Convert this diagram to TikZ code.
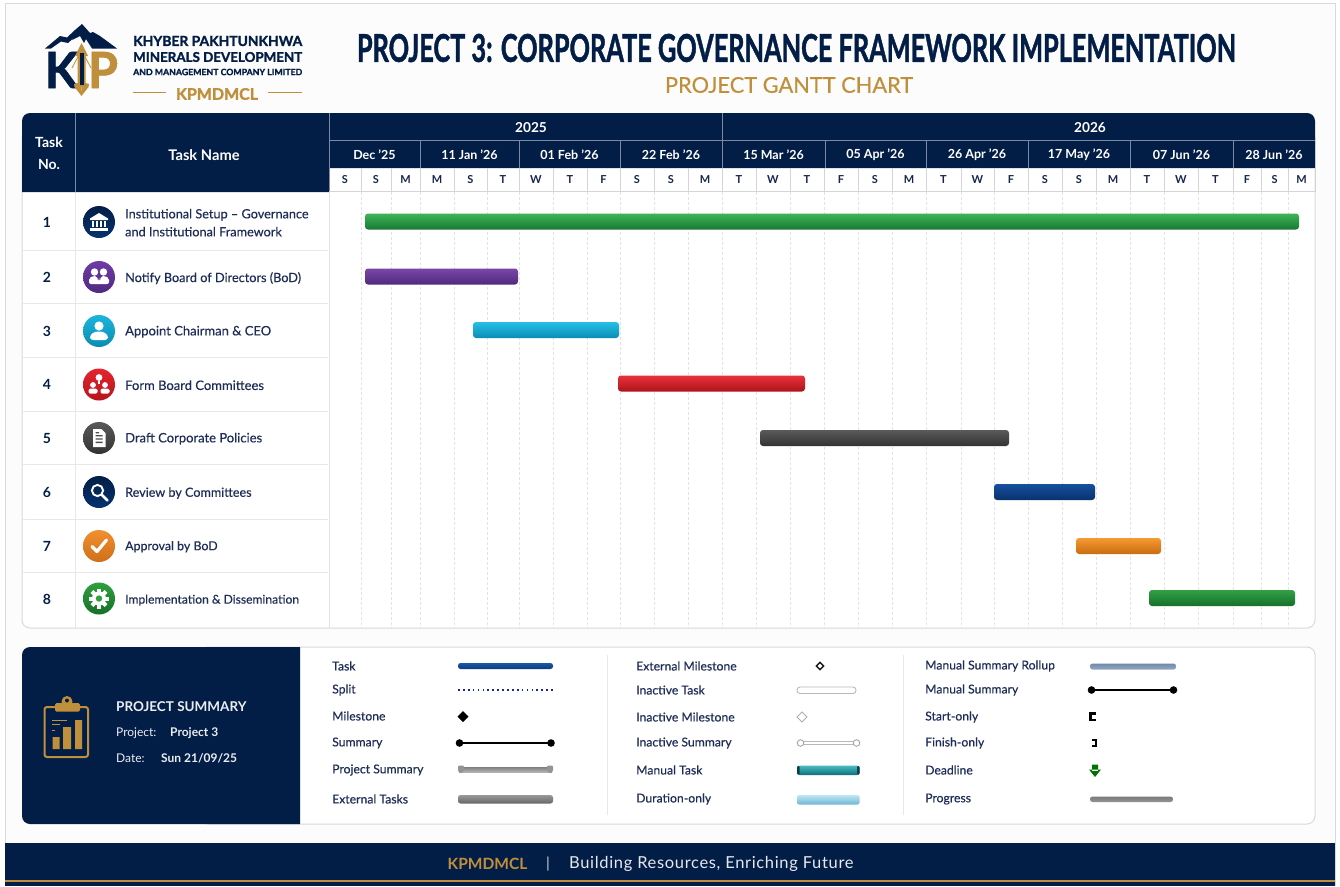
\documentclass[tikz,border=0pt]{standalone}
\usepackage{fontspec}
\usepackage{graphicx}
\setmainfont{Lato}
\newfontfamily\ttl[BoldFeatures={FakeBold=1.6}]{Lato}
\newfontfamily\med[FakeBold=0.35]{Lato}
\definecolor{navy}{HTML}{031E46}
\definecolor{ink}{HTML}{1E2D58}
\definecolor{gold}{HTML}{C08F3C}
\definecolor{rulec}{HTML}{E6E8EC}
\definecolor{sepc}{HTML}{7C88A4}
\definecolor{edgec}{HTML}{D5D9E0}
\definecolor{tkA}{HTML}{1A56A6}
\definecolor{tkB}{HTML}{0B3B80}
\definecolor{mtA}{HTML}{4ABCC4}
\definecolor{mtB}{HTML}{15929C}
\definecolor{mtC}{HTML}{0D6F78}
\definecolor{mtD}{HTML}{0B3F4A}
\definecolor{doA}{HTML}{BFE6F2}
\definecolor{doB}{HTML}{8FD0E4}
\definecolor{doC}{HTML}{6DB8D4}
\definecolor{roA}{HTML}{6F8CAE}
\definecolor{roB}{HTML}{93A7BE}
\definecolor{icPa}{HTML}{6E3CA6}
\definecolor{icPb}{HTML}{4F2A7E}
\definecolor{icCa}{HTML}{1CB4DC}
\definecolor{icCb}{HTML}{0A8DB2}
\definecolor{icRa}{HTML}{E4252E}
\definecolor{icRb}{HTML}{B5141C}
\definecolor{icOa}{HTML}{F09030}
\definecolor{icOb}{HTML}{CF6F18}
\definecolor{icGa}{HTML}{2FA03E}
\definecolor{icGb}{HTML}{157029}
\definecolor{icNb}{HTML}{063270}
\definecolor{splitc}{HTML}{1B2A8A}
\newcommand\fs[1]{\fontsize{#1}{#1}\selectfont}
\newcommand\gbar[6]{\definecolor{gbA}{HTML}{#4}\definecolor{gbB}{HTML}{#5}\definecolor{gbC}{HTML}{#6}\shade[top color=gbA,middle color=gbB,bottom color=gbC,rounded corners=3pt] (#1,#2) rectangle (#3,#2+16);}
\newcommand\diam[3]{(#1-#3,#2) -- (#1,#2-#3) -- (#1+#3,#2) -- (#1,#2+#3) -- cycle}
\tikzset{
  x=1pt,y=-1pt,
  lbl/.style={anchor=west,inner sep=0pt,text=ink,yshift=-.7pt,font=\med\fs{12.7}},
  hdr/.style={inner sep=0pt,text=white,font=\bfseries\fs{12.5}},
  daylbl/.style={inner sep=0pt,text=ink!85!black,font=\bfseries\fs{11}},
  numlbl/.style={inner sep=0pt,text=navy,font=\bfseries\fs{14}},
  sumlbl/.style={anchor=west,inner sep=0pt,text=white!92!navy,font=\fs{12}},
  icw/.style={fill=white,draw=none},
}
\begin{document}
\begin{tikzpicture}
\useasboundingbox (0,0) rectangle (1340,886);
\fill[white] (0,0) rectangle (1340,886);
\fill[black!1] (5,3) rectangle (1335,886);
\draw[edgec,line width=1pt] (5,886) -- (5,3.5) -- (1335,3.5) -- (1335,886);

% ---------- logo
\fill[navy] (82,24) -- (90,33) -- (93,32) -- (100,36) -- (117,48.5) -- (92,48.5) -- (86,39) -- (84,43) -- (80,36) -- (72,40) -- cycle;
\fill[navy] (45,48.5) -- (60,36) -- (67,37.5) -- (75,30) -- (82,24) -- (78,34) -- (68,43) -- (61,41.5) -- (51,48.5) -- cycle;
\node[inner sep=0pt,text=navy] (logoK) at (61.5,70) {\resizebox{33pt}{36pt}{\ttl\bfseries K}};
\node[inner sep=0pt,text=gold] (logoP) at (103,70) {\resizebox{30pt}{36pt}{\ttl\bfseries P}};
\draw[gold,line width=.8pt] (81.5,50) -- (72,68);
\draw[gold,line width=.8pt] (81.5,50) -- (91,68);
\fill[gold] (81.5,43) -- (88,56) -- (85.5,56) -- (85.5,83) -- (89,84) -- (88.5,87) -- (81.5,96) -- (74.5,87) -- (74,84) -- (77.5,83) -- (77.5,56) -- (75,56) -- cycle;
\fill[navy] (79.5,53) rectangle (83.5,85);
\fill[white!25!gold] (80.5,87) -- (82.5,87) -- (81.5,91) -- cycle;

\node[anchor=west,inner sep=0pt,text=navy] (org1) at (133,41) {\resizebox{169pt}{!}{\ttl\bfseries\fs{14}KHYBER PAKHTUNKHWA}};
\node[anchor=west,inner sep=0pt,text=navy] (org2) at (133,57) {\resizebox{169pt}{!}{\ttl\bfseries\fs{14}MINERALS DEVELOPMENT}};
\node[anchor=west,inner sep=0pt,text=navy] (org3) at (133,72) {\resizebox{169pt}{!}{\ttl\bfseries\fs{9}AND MANAGEMENT COMPANY LIMITED}};
\node[inner sep=0pt,text=gold] (org4) at (217,94) {\resizebox{82pt}{!}{\ttl\bfseries\fs{15}KPMDMCL}};
\draw[gold,line width=1.2pt] (133,92.5) -- (166,92.5) (268,92.5) -- (302,92.5);

% ---------- title
\node[inner sep=0pt,text=navy] (title) at (796.5,48) {\resizebox{879pt}{28pt}{\ttl\bfseries PROJECT 3: CORPORATE GOVERNANCE FRAMEWORK IMPLEMENTATION}};
\node[inner sep=0pt,text=gold] (subtitle) at (789,85) {\resizebox{248pt}{!}{\med\fs{20}PROJECT GANTT CHART}};

% ---------- table frame and chart grid
\fill[white,draw=edgec,line width=1pt,rounded corners=8pt] (22,130) rectangle (1315,628);
\foreach \e in {361,391,420,454,487,519,553,587,620,654,688,722,756,790,824,858,892,926,961,994,1028,1062,1096,1130,1164,1198,1233,1261,1288}
  \draw[black!11,line width=.6pt,dash pattern=on 2.5pt off 2.5pt] (\e,192) -- (\e,628);
\draw[black!11,line width=.6pt] (329,192) -- (329,628);
\draw[rulec,line width=1pt] (75,192) -- (75,628);
\foreach \r in {250,303.5,357,411,464.5,519,572}
  \draw[rulec,line width=1pt] (22.5,\r) -- (328,\r);

% ---------- table header
\fill[navy] (22,192) [rounded corners=8pt] -- (22,113) -- (1315,113) [sharp corners] -- (1315,168) -- (329,168) -- (329,192) -- cycle;
\draw[sepc,line width=.8pt] (75,113) -- (75,192) (329,113) -- (329,192) (329,140) -- (1315,140) (722,113) -- (722,168);
\foreach \e in {420,519,620,825,926,1028,1130,1233}
  \draw[sepc,line width=.8pt] (\e,140) -- (\e,168);
\node[hdr,align=center,font=\bfseries\fontsize{14}{22}\selectfont] (hNo) at (49,153) {Task\\No.};
\node[hdr,font=\bfseries\fs{14.7}] (hName) at (204,155) {Task Name};
\node[hdr,font=\bfseries\fs{13.7}] (y25) at (531,128) {2025};
\node[hdr,font=\bfseries\fs{13.7}] (y26) at (1090,128) {2026};
\foreach \a/\b/\m in {329/420/Dec '25,420/519/11 Jan '26,519/620/01 Feb '26,620/722/22 Feb '26,722/825/15 Mar '26,825/926/05 Apr '26,926/1028/26 Apr '26,1028/1130/17 May '26,1130/1233/07 Jun '26,1233/1315/28 Jun '26}
  \node[hdr] (m\a) at ({(\a+\b)/2},155) {\m};
\foreach \a/\b/\l in {329/361/S,361/391/S,391/420/M,420/454/M,454/487/S,487/519/T,519/553/W,553/587/T,587/620/F,620/654/S,654/688/S,688/722/M,722/756/T,756/790/W,790/824/T,824/858/F,858/892/S,892/926/M,926/961/T,961/994/W,994/1028/F,1028/1062/S,1062/1096/S,1096/1130/M,1130/1164/T,1164/1198/W,1198/1233/T,1233/1261/F,1261/1288/S,1288/1315/M}{
  \node[daylbl] (d\a) at ({(\a+\b)/2},180) {\l};
  \draw[black!17,line width=.7pt] (\b,168) -- (\b,191.5);
}
\draw[black!17,line width=.8pt] (329,191.5) -- (1315,191.5);

% ---------- task rows
\foreach \i/\y in {1/222,2/277,3/331,4/384,5/438,6/492,7/546,8/599}
  \node[numlbl] (n\i) at (47,\y) {\i};
\node[lbl,align=left,font=\med\fontsize{12.7}{18}\selectfont] (t1) at (125,222) {Institutional Setup – Governance\\and Institutional Framework};
\node[lbl] (t2) at (125,277.5) {Notify Board of Directors (BoD)};
\node[lbl,font=\med\fs{13}] (t3) at (125,331) {Appoint Chairman \& CEO};
\node[lbl,font=\med\fs{13}] (t4) at (125,384.5) {Form Board Committees};
\node[lbl,font=\med\fs{13}] (t5) at (125,438) {Draft Corporate Policies};
\node[lbl,font=\med\fs{12.6}] (t6) at (125,492.5) {Review by Committees};
\node[lbl,font=\med\fs{12.4}] (t7) at (125,546) {Approval by BoD};
\node[lbl,font=\med\fs{12.1}] (t8) at (125,599.5) {Implementation \& Dissemination};

% ---------- icons
\shade[top color=navy,bottom color=icNb] (99,222) circle (16);
\begin{scope}[shift={(99,222)}]
  \fill[icw] (-9,-3.5) -- (0,-9) -- (9,-3.5) -- (9,-2) -- (-9,-2) -- cycle;
  \foreach \c in {-7,-3,1,5} \fill[icw] (\c,-1) rectangle (\c+2,5);
  \fill[icw] (-9,6) rectangle (9,8.5);
\end{scope}
\shade[top color=icPa,bottom color=icPb] (99,277) circle (16);
\begin{scope}[shift={(99,277)}]
  \fill[icw] (-4.5,-5) circle (3.7) (4.5,-5) circle (3.7);
  \fill[icw,rounded corners=2pt] (-10,7) -- (-10,1) -- (-6,-1) -- (-2,-1) -- (-.8,5) -- (0,0) -- (.8,5) -- (2,-1) -- (6,-1) -- (10,1) -- (10,7) -- cycle;
\end{scope}
\shade[top color=icCa,bottom color=icCb] (99,331) circle (16);
\begin{scope}[shift={(99,331)}]
  \fill[icw] (0,-5) circle (4.6);
  \fill[icw,rounded corners=3pt] (-9,9) -- (-9,4) -- (-4,.5) -- (4,.5) -- (9,4) -- (9,9) -- cycle;
\end{scope}
\shade[top color=icRa,bottom color=icRb] (99,384.5) circle (16);
\begin{scope}[shift={(99,384.5)}]
  \fill[icw] (0,-7) circle (3.4) (-6,0.5) circle (2.9) (6,0.5) circle (2.9);
  \fill[icw] (-.6,-4) rectangle (.6,-1);
  \fill[icw,rounded corners=1.5pt] (-10.5,9) -- (-10.5,4.2) -- (-1.5,4.2) -- (-1.5,9) -- cycle (1.5,9) -- (1.5,4.2) -- (10.5,4.2) -- (10.5,9) -- cycle;
\end{scope}
\shade[top color=black!65,bottom color=black!80] (99,438) circle (16);
\begin{scope}[shift={(99,438)}]
  \fill[icw] (-6,-9) -- (2.5,-9) -- (6.5,-5) -- (6.5,9) -- (-6,9) -- cycle;
  \fill[black!70] (-3.5,-3) rectangle (3.5,-1.6) (-3.5,.3) rectangle (3.5,1.7) (-3.5,3.6) rectangle (3.5,5) (-3.5,-6) rectangle (0,-4.6);
\end{scope}
\shade[top color=navy,bottom color=icNb] (99,492) circle (16);
\begin{scope}[shift={(99,492)}]
  \draw[white,line width=1.9pt] (-1.5,-1.5) circle (5.6);
  \draw[white,line width=2.6pt,line cap=round] (2.8,2.8) -- (8.5,8.5);
\end{scope}
\shade[top color=icOa,bottom color=icOb] (99,546) circle (16);
\draw[white,line width=3.2pt,line cap=round,line join=round] (92,546.5) -- (97,551.5) -- (106.5,540);
\shade[top color=icGa,bottom color=icGb] (99,598.5) circle (16);
\begin{scope}[shift={(99,598.5)}]
  \foreach \t in {0,45,...,315} \fill[icw,rotate=\t] (-2,-10) rectangle (2,-5);
  \fill[icw] (0,0) circle (7);
  \fill[icGa] (0,0) circle (3.2);
\end{scope}

% ---------- bars
\gbar{365}{213.5}{1299}{3FB45A}{23A043}{157A30}
\gbar{365}{268.5}{518}{7B46A8}{643295}{4F2A7E}
\gbar{473}{322}{619}{26BFE6}{12AAD4}{0B8DB5}
\gbar{618}{375.5}{805}{E8323A}{DC1F28}{AE131B}
\gbar{760}{430}{1009}{5A5A5A}{454545}{333333}
\gbar{994}{484}{1095}{184F9E}{0C3F86}{08326E}
\gbar{1076}{538}{1161}{F59A33}{E9841F}{C96C10}
\gbar{1149}{590}{1295}{32A047}{218F37}{157029}

% ---------- legend panel
\fill[white,draw=edgec,line width=1pt,rounded corners=8pt] (200,647) rectangle (1315,824);
\fill[navy] (300,647) [rounded corners=8pt] -- (22,647) -- (22,824) [sharp corners] -- (300,824) -- cycle;
\draw[rulec,line width=.8pt] (607,655) -- (607,815) (903,655) -- (903,815);

% clipboard icon
\begin{scope}[gold]
  \draw[line width=2pt,rounded corners=2.5pt] (44.5,707) rectangle (88,757);
  \fill[rounded corners=1.5pt] (55,703) rectangle (80,711.5);
  \fill (67,701.5) circle (5.5);
  \fill[navy] (67,700.5) circle (2);
  \draw[line width=1pt] (52,720) -- (67,720) (52,724) -- (60,724);
  \draw[line width=1pt] (52,730) -- (55,730);
  \fill (52.7,737) rectangle (59.5,749) (63,727) rectangle (71,749) (75,720) rectangle (82,749);
\end{scope}
\node[sumlbl,font=\bfseries\fs{13.5}] (sT) at (116,707) {PROJECT SUMMARY};
\node[sumlbl] (sP) at (116,733) {Project:};
\node[sumlbl,font=\bfseries\fs{12}] (sPv) at (170,733) {Project 3};
\node[sumlbl] (sD) at (116,758) {Date:};
\node[sumlbl,font=\bfseries\fs{12}] (sDv) at (161,758) {Sun 21/09/25};

\foreach \x/\y/\t [count=\k] in {
  332/666/Task,332/690/Split,332/716/Milestone,332/743/Summary,332/770/Project Summary,332/799/External Tasks,
  636/666/External Milestone,636/690/Inactive Task,636/717/Inactive Milestone,636/743/Inactive Summary,636/770/Manual Task,636/799/Duration-only,
  925/666/Manual Summary Rollup,925/690/Manual Summary,925/717/Start-only,925/743/Finish-only,925/770/Deadline,925/799/Progress}
  \node[lbl,yshift=.7pt,font=\med\fs{12.2}] (lg\k) at (\x,\y) {\t};

% legend swatches, column 1
\shade[top color=tkA,bottom color=tkB,rounded corners=2.5pt] (458,663) rectangle (553,669);
\draw[splitc,line width=1.7pt,dash pattern=on 1.7pt off 3.2pt] (458,690) -- (553,690);
\fill[black] \diam{463}{716.5}{5.5};
\draw[black,line width=2.4pt] (459,743) -- (552,743);
\fill[black] (459.5,743) circle (3.8) (551,743) circle (3.8);
\shade[top color=black!50,bottom color=black!30] (459,767) rectangle (552,772);
\fill[black!42,rounded corners=1pt] (458,765.5) -- (464,765.5) -- (464,771) -- (460.5,773.5) -- (458,771) -- cycle (553,765.5) -- (547,765.5) -- (547,771) -- (550.5,773.5) -- (553,771) -- cycle;
\shade[top color=black!40,middle color=black!52,bottom color=black!60,rounded corners=2.5pt] (458,795) rectangle (553,803.5);

% column 2
\draw[black!90,fill=white,line width=1.5pt] \diam{820}{666}{3.6};
\draw[black!28,fill=white,line width=.9pt,rounded corners=3pt] (797,687) rectangle (856,693.5);
\draw[black!32,fill=white,line width=.9pt] \diam{802}{717}{5};
\draw[black!28,fill=white,line width=.9pt] (801,741.5) rectangle (857,744.5);
\draw[black!35,fill=white,line width=.9pt] (800.5,743) circle (3.3) (856.5,743) circle (3.3);
\shade[top color=mtA,middle color=mtB,bottom color=mtC,rounded corners=2.5pt] (797,765.5) rectangle (859.5,775);
\fill[mtD,rounded corners=1pt] (797,766) rectangle (799.5,774.5) (857,766) rectangle (859.5,774.5);
\shade[top color=doA,middle color=doB,bottom color=doC,rounded corners=2pt] (797,795) rectangle (859.5,804.5);

% column 3
\shade[top color=roA,bottom color=roB,rounded corners=2.5pt] (1090,663.5) rectangle (1176,669.5);
\draw[black,line width=2.4pt] (1092,690) -- (1174,690);
\fill[black] (1091.5,690) circle (3.8) (1173.5,690) circle (3.8);
\draw[black,line width=2.2pt] (1095.5,713.5) -- (1090.5,713.5) -- (1090.5,720) -- (1095.5,720);
\draw[black,line width=2.2pt] (1091.5,740) -- (1096,740) -- (1096,746) -- (1091.5,746);
\fill[green!45!black] (1092,764.5) rectangle (1098,771) (1089,769.5) -- (1101,769.5) -- (1095,777) -- cycle;
\shade[top color=black!52,bottom color=black!42,rounded corners=2.5pt] (1090,796.5) rectangle (1173,802);

% ---------- footer
\fill[navy] (5,843) rectangle (1335,886);
\fill[gold] (5,880.3) rectangle (1335,881.9);
\node[inner sep=0pt,text=gold,font=\bfseries\fs{15.5}] (fA) at (487.5,864) {KPMDMCL};
\node[inner sep=0pt,text=white!80!navy,font=\fs{15}] (fB) at (548,864) {|};
\node[anchor=west,inner sep=0pt,text=white!90!navy,font=\fs{16.5}\addfontfeature{LetterSpace=4}] (fC) at (569,864) {Building Resources, Enriching Future};
\end{tikzpicture}
\end{document}
